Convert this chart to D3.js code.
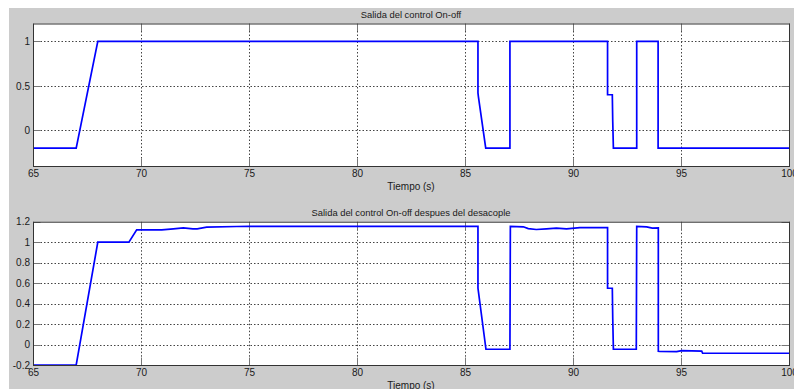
<!DOCTYPE html>
<html>
<head>
<meta charset="utf-8">
<script src="https://cdn.jsdelivr.net/npm/d3@7"></script>
<style>
  body { margin: 0; background: #fff; }
  svg { display: block; }
  text { font-family: "Liberation Sans", Arial, sans-serif; fill: #1a1a1a; }
  .axis path, .axis line { display: none; }
</style>
</head>
<body>
<script>
// Data
var xTicks = [65, 70, 75, 80, 85, 90, 95, 100];
var yTicksTop = [0, 0.5, 1];
var yTicksBottom = [-0.2, 0, 0.2, 0.4, 0.6, 0.8, 1, 1.2];

var titleTop = "Salida del control On-off";
var titleBottom = "Salida del control On-off despues del desacople";
var xLabel = "Tiempo (s)";

// Salida del control On-off
var timeTop = [65, 67.0, 68.0, 85.6, 85.6, 85.62, 85.96, 87.08, 87.08, 91.6, 91.6, 91.82, 91.84, 91.87, 92.95, 92.95, 93.94, 93.94, 100];
var valueTop = [-0.2, -0.2, 1, 1, 0.42, 0.38, -0.2, -0.2, 1, 1, 0.4, 0.4, 0.1, -0.2, -0.2, 1, 1, -0.2, -0.2];

// Salida del control On-off despues del desacople
var timeBottom = [65, 67.0, 68.0, 69.44, 69.8, 70.96, 71.5, 71.96, 72.4, 72.6, 73.04, 74.43, 75, 85.6,
  85.6, 85.62, 85.97, 87.08, 87.1, 87.7, 87.93, 88.3, 88.77, 89.23, 89.7, 90.32, 91.6,
  91.6, 91.82, 91.84, 91.87, 92.93, 92.95, 93.41, 93.67, 93.95,
  93.95, 94.03, 94.8, 95.03, 95.96, 96.0, 100];
var valueBottom = [-0.2, -0.2, 1.0, 1.0, 1.12, 1.12, 1.13, 1.14, 1.13, 1.13, 1.147, 1.153, 1.155, 1.155,
  0.55, 0.52, -0.046, -0.046, 1.155, 1.15, 1.133, 1.124, 1.13, 1.137, 1.13, 1.143, 1.143,
  0.55, 0.55, 0.255, -0.046, -0.046, 1.155, 1.15, 1.137, 1.14,
  -0.066, -0.068, -0.07, -0.06, -0.065, -0.085, -0.085];

var W = 794, H = 389;

var svg = d3.select("body").append("svg")
  .attr("width", W)
  .attr("height", H);

// figure background (screenshot leaves a white strip top/left)
svg.append("rect")
  .attr("x", 9).attr("y", 8)
  .attr("width", W - 9).attr("height", H - 8)
  .attr("fill", "#cccccc");

function drawPanel(opts) {
  var x = d3.scaleLinear().domain([65, 100]).range([opts.left, opts.right]);
  var y = d3.scaleLinear().domain(opts.yDomain).range([opts.bottom, opts.top]);
  var g = svg.append("g");
  var tl = 7.5;

  g.append("rect")
    .attr("x", opts.left).attr("y", opts.top)
    .attr("width", opts.right - opts.left)
    .attr("height", opts.bottom - opts.top)
    .attr("fill", "#ffffff");

  // dotted grid
  g.selectAll(".gx").data(xTicks.slice(1, -1)).enter().append("line")
    .attr("x1", function(d) { return Math.round(x(d)) + 0.5; })
    .attr("x2", function(d) { return Math.round(x(d)) + 0.5; })
    .attr("y1", opts.top + tl).attr("y2", opts.bottom - tl)
    .attr("stroke", "#444").attr("stroke-dasharray", "1.5,2");
  g.selectAll(".gy").data(opts.yTicks.filter(function(d) {
      return d > opts.yDomain[0] && d < opts.yDomain[1]; })).enter().append("line")
    .attr("y1", function(d) { return Math.round(y(d)) + 0.5; })
    .attr("y2", function(d) { return Math.round(y(d)) + 0.5; })
    .attr("x1", opts.left + tl).attr("x2", opts.right - tl)
    .attr("stroke", "#444").attr("stroke-dasharray", "1.5,2");

  // inner tick marks
  xTicks.forEach(function(d) {
    var px = Math.round(x(d)) + 0.5;
    g.append("line").attr("x1", px).attr("x2", px)
      .attr("y1", opts.bottom).attr("y2", opts.bottom - tl).attr("stroke", "#777");
    g.append("line").attr("x1", px).attr("x2", px)
      .attr("y1", opts.top).attr("y2", opts.top + tl).attr("stroke", "#777");
  });
  opts.yTicks.forEach(function(d) {
    var py = Math.round(y(d)) + 0.5;
    g.append("line").attr("y1", py).attr("y2", py)
      .attr("x1", opts.left).attr("x2", opts.left + tl).attr("stroke", "#777");
    g.append("line").attr("y1", py).attr("y2", py)
      .attr("x1", opts.right).attr("x2", opts.right - tl).attr("stroke", "#777");
  });

  // series
  var pts = opts.t.map(function(t, i) { return [t, opts.v[i]]; });
  var line = d3.line()
    .x(function(d) { return x(d[0]); })
    .y(function(d) { return y(d[1]); });
  g.append("path")
    .datum(pts)
    .attr("d", line)
    .attr("fill", "none")
    .attr("stroke", "#0000ff")
    .attr("stroke-width", 1.7)
    .attr("stroke-linejoin", "miter");

  // frame
  g.append("rect")
    .attr("x", opts.left + 0.5).attr("y", opts.top + 0.5)
    .attr("width", opts.right - opts.left)
    .attr("height", opts.bottom - opts.top)
    .attr("fill", "none")
    .attr("stroke", "#333");

  // axes (labels only)
  var xAxis = d3.axisBottom(x).tickValues(xTicks).tickSize(0).tickPadding(4)
    .tickFormat(d3.format("d"));
  g.append("g").attr("class", "axis")
    .attr("transform", "translate(0," + opts.bottom + ")")
    .call(xAxis)
    .selectAll("text").style("font-size", "10px").attr("fill", "#1a1a1a");

  var yAxis = d3.axisLeft(y).tickValues(opts.yTicks).tickSize(0).tickPadding(3)
    .tickFormat(function(d) { return String(Math.round(d * 10) / 10).replace("−", "-"); });
  g.append("g").attr("class", "axis")
    .attr("transform", "translate(" + opts.left + ",0)")
    .call(yAxis)
    .selectAll("text").style("font-size", "10px").attr("fill", "#1a1a1a");

  var cx = (opts.left + opts.right) / 2;
  g.append("text")
    .attr("x", cx).attr("y", opts.top - 6)
    .attr("text-anchor", "middle")
    .style("font-size", "9.4px")
    .text(opts.title);
  g.append("text")
    .attr("x", cx).attr("y", opts.bottom + 24)
    .attr("text-anchor", "middle")
    .style("font-size", "10px")
    .text(xLabel);
}

drawPanel({
  left: 33, right: 789, top: 23.5, bottom: 166,
  yDomain: [-0.4, 1.2], yTicks: yTicksTop,
  t: timeTop, v: valueTop, title: titleTop
});

drawPanel({
  left: 33, right: 789, top: 221.7, bottom: 365,
  yDomain: [-0.2, 1.2], yTicks: yTicksBottom,
  t: timeBottom, v: valueBottom, title: titleBottom
});
</script>
</body>
</html>
